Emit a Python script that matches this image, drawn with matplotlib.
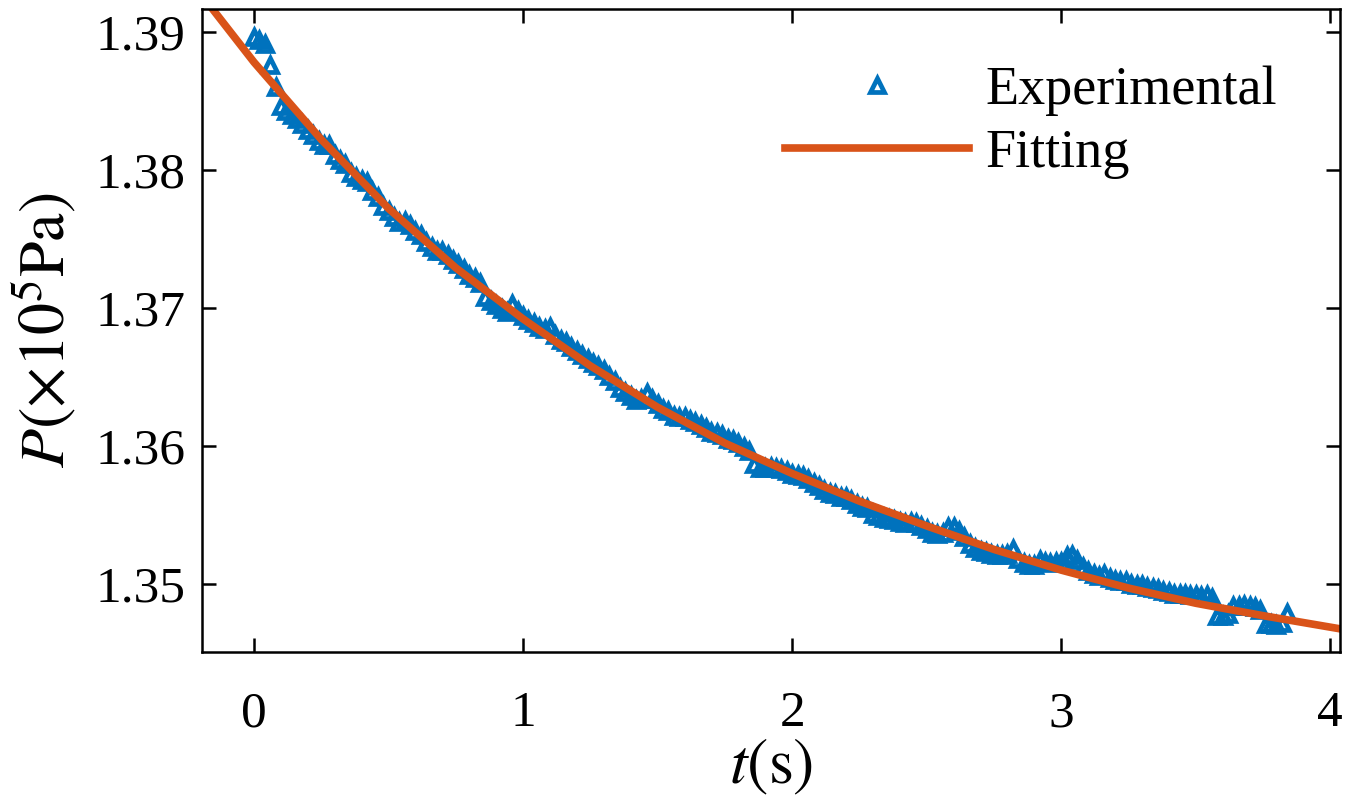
import numpy as np
import matplotlib
matplotlib.use("Agg")
import matplotlib.pyplot as plt
from matplotlib.ticker import FormatStrFormatter

plt.rcParams['font.family'] = ['Liberation Serif', 'DejaVu Serif']
plt.rcParams['mathtext.fontset'] = 'stix'

# experimental samples, every 0.02 s
t_exp = np.round(np.arange(0, 3.841, 0.02), 2)
p_exp = [
    1.3896, 1.3894, 1.3891, 1.3876, 1.3860, 1.3846, 1.3843, 1.3840, 1.3837, 1.3833,
    1.3829, 1.3825, 1.3821, 1.3818, 1.3818, 1.3811, 1.3807, 1.3804, 1.3798, 1.3795,
    1.3793, 1.3791, 1.3785, 1.3780, 1.3774, 1.3770, 1.3766, 1.3762, 1.3763, 1.3760,
    1.3756, 1.3753, 1.3748, 1.3744, 1.3741, 1.3741, 1.3738, 1.3735, 1.3732, 1.3728,
    1.3724, 1.3722, 1.3718, 1.3708, 1.3705, 1.3702, 1.3699, 1.3697, 1.3703, 1.3698,
    1.3694, 1.3691, 1.3689, 1.3686, 1.3685, 1.3686, 1.3680, 1.3677, 1.3675, 1.3672,
    1.3669, 1.3666, 1.3663, 1.3660, 1.3658, 1.3655, 1.3651, 1.3647, 1.3642, 1.3639,
    1.3636, 1.3633, 1.3634, 1.3638, 1.3634, 1.3630, 1.3627, 1.3625, 1.3622, 1.3621,
    1.3621, 1.3619, 1.3617, 1.3615, 1.3613, 1.3610, 1.3609, 1.3608, 1.3605, 1.3604,
    1.3602, 1.3599, 1.3596, 1.3587, 1.3584, 1.3584, 1.3585, 1.3584, 1.3583, 1.3582,
    1.3580, 1.3579, 1.3578, 1.3576, 1.3573, 1.3571, 1.3568, 1.3566, 1.3565, 1.3563,
    1.3563, 1.3561, 1.3558, 1.3556, 1.3555, 1.3551, 1.3549, 1.3548, 1.3547, 1.3546,
    1.3545, 1.3544, 1.3545, 1.3544, 1.3542, 1.3540, 1.3537, 1.3536, 1.3537, 1.3541,
    1.3541, 1.3538, 1.3534, 1.3529, 1.3526, 1.3524, 1.3523, 1.3522, 1.3521, 1.3521,
    1.3522, 1.3525, 1.3518, 1.3515, 1.3514, 1.3514, 1.3517, 1.3516, 1.3515, 1.3516,
    1.3516, 1.3520, 1.3521, 1.3517, 1.3512, 1.3509, 1.3507, 1.3506, 1.3507, 1.3504,
    1.3503, 1.3502, 1.3502, 1.3500, 1.3499, 1.3499, 1.3498, 1.3497, 1.3496, 1.3495,
    1.3494, 1.3493, 1.3493, 1.3493, 1.3492, 1.3492, 1.3491, 1.3492, 1.3490, 1.3477,
    1.3477, 1.3478, 1.3484, 1.3484, 1.3485, 1.3484, 1.3483, 1.3481, 1.3471, 1.3471,
    1.3470, 1.3472, 1.3479,
]

# fitted curve
t_fit = [-0.2, 0.0, 0.25, 0.5, 0.75, 1.0, 1.25, 1.5, 1.75, 2.0,
         2.25, 2.5, 2.75, 3.0, 3.25, 3.5, 3.75, 4.05]
p_fit = [1.3928, 1.3878, 1.3822, 1.3772, 1.3729, 1.3692, 1.3658, 1.3628, 1.3602, 1.3580,
         1.3560, 1.3542, 1.3525, 1.3510, 1.3497, 1.3486, 1.3477, 1.3467]

x_ticks = [0, 1, 2, 3, 4]
y_ticks = [1.35, 1.36, 1.37, 1.38, 1.39]

fig = plt.figure(figsize=(13.47, 7.98), dpi=100)
ax = fig.add_axes([0.150, 0.183, 0.845, 0.806])

ax.plot(t_exp, p_exp, '^', color='#0072BD', mfc='none', mec='#0072BD',
        ms=9.5, mew=3.4, label='Experimental')
ax.plot(t_fit, p_fit, '-', color='#D95319', lw=5.5, label='Fitting')

ax.set_xlim(-0.193, 4.037)
ax.set_ylim(1.34507, 1.39167)
ax.set_xticks(x_ticks)
ax.set_yticks(y_ticks)
ax.yaxis.set_major_formatter(FormatStrFormatter('%.2f'))

ax.tick_params(direction='in', length=10, width=1.8, labelsize=37,
               top=True, right=True)
ax.tick_params(axis='x', pad=28)
ax.tick_params(axis='y', pad=12)
for s in ax.spines.values():
    s.set_linewidth(1.8)

ax.set_xlabel(r'$t(\mathrm{s})$', fontsize=46, labelpad=0)
ax.set_ylabel(r'$P(\times10^5\mathrm{Pa})$', fontsize=46, labelpad=12)

ax.legend(loc='upper left', bbox_to_anchor=(0.512, 0.912), frameon=False,
          fontsize=39, handlelength=3.4, handletextpad=0.3, labelspacing=0.24,
          borderpad=0, borderaxespad=0)

fig.savefig('out.png', dpi=100)
